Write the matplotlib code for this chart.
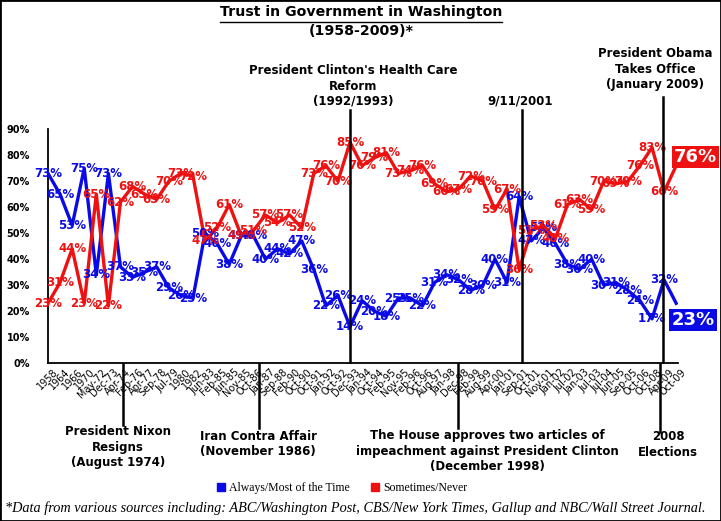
import matplotlib
matplotlib.use("Agg")
import matplotlib.pyplot as plt
import matplotlib.transforms as mtransforms
import numpy as np
from matplotlib.lines import Line2D
from matplotlib.patches import Rectangle

dates = [
    "1958", "1964", "1966", "1970", "May-72", "Dec-73", "Apr-74", "Feb-76",
    "Apr-77", "Sep-78", "Jul-79", "1980", "1982", "Jun-83", "Feb-85", "Jun-85",
    "Nov-85", "Oct-86", "Jan-87", "Sep-88", "Feb-90", "Oct-90", "Oct-91",
    "Jan-92", "Oct-92", "Dec-93", "Jan-94", "Oct-94", "Feb-95", "Nov-95",
    "Feb-96", "Oct-96", "Aug-97", "Jan-98", "Dec-98", "Feb-99", "Aug-99",
    "Apr-00", "Jan-01", "Sep-01", "Oct-01", "Nov-01", "Jan-02", "Jul-02",
    "Jan-03", "Jul-03", "Jul-04", "Jun-05", "Sep-05", "Oct-06", "Oct-08",
    "Apr-09", "Oct-09",
]
always_most = [
    73, 65, 53, 75, 34, 73, 37, 33, 35, 37, 29, 26, 25, 50, 46, 38, 49, 49,
    40, 44, 42, 47, 36, 22, 26, 14, 24, 20, 18, 25, 25, 22, 31, 34, 32, 28,
    30, 40, 31, 64, 47, 52, 46, 38, 36, 40, 30, 31, 28, 24, 17, 32, 23,
]
sometimes_never = [
    23, 31, 44, 23, 65, 22, 62, 68, 65, 63, 70, 73, 72, 47, 52, 61, 49, 51,
    57, 54, 57, 52, 73, 76, 70, 85, 76, 79, 81, 73, 74, 76, 69, 66, 67, 72,
    70, 59, 67, 36, 51, 53, 48, 61, 63, 59, 70, 69, 70, 76, 83, 66, 76,
]
series_names = ["Always/Most of the Time", "Sometimes/Never"]

# events: (text, position on the date axis)
events_top = [
    ("President Clinton's Health Care\nReform\n(1992/1993)", 25.0),
    ("9/11/2001", 39.2),
    ("President Obama\nTakes Office\n(January 2009)", 50.9),
]
events_bottom = [
    ("President Nixon\nResigns\n(August 1974)", 6.2),
    ("Iran Contra Affair\n(November 1986)", 17.5),
    ("The House approves two articles of\nimpeachment against President Clinton\n(December 1998)", 33.9),
    ("2008\nElections", 50.7),
]

BLUE = "#0a0ae6"
RED = "#ee1111"
W, H = 721, 521


def fx(px: float) -> float:
    return px / W


def fy(py: float) -> float:
    return 1 - py / H


fig = plt.figure(figsize=(W / 100, H / 100), dpi=100)
plt.rcParams["font.family"] = ["DejaVu Sans"]

ax = fig.add_axes([fx(48), fy(363), fx(678) - fx(48), fy(129.3) - fy(363)])
x = np.arange(len(dates))
ax.plot(x, always_most, color=BLUE, lw=2.4, zorder=3)
ax.plot(x, sometimes_never, color=RED, lw=2.4, zorder=3)

ax.set_xlim(0, len(dates) - 1 + 0.15)
ax.set_ylim(0, 90)
ax.set_yticks(range(0, 91, 10))
ax.yaxis.set_major_formatter(lambda v, p: f"{v:.0f}%")
ax.tick_params(axis="y", length=0, pad=13, labelsize=7)
for lab in ax.get_yticklabels():
    lab.set_fontweight("bold")

ax.set_xticks(x)
ax.set_xticklabels(dates, rotation=45, ha="right", va="top",
                   rotation_mode="anchor", fontsize=7)
ax.tick_params(axis="x", length=0, pad=3)
shift = mtransforms.ScaledTranslation(5 / 100, 0, fig.dpi_scale_trans)
for lab in ax.get_xticklabels():
    lab.set_transform(lab.get_transform() + shift)

for side in ("top", "right"):
    ax.spines[side].set_visible(False)
for side in ("left", "bottom"):
    ax.spines[side].set_linewidth(1.3)

for values, color in ((always_most, BLUE), (sometimes_never, RED)):
    for i, v in enumerate(values[:-1]):
        ax.text(i, v, f"{v}%", color=color, ha="center", va="center",
                fontsize=8.5, fontweight="bold", zorder=5)

ax.annotate(f"{sometimes_never[-1]}%", xy=(x[-1], sometimes_never[-1]),
            xytext=(14, 6), textcoords="offset points", ha="center",
            va="center", color="white", fontsize=13, fontweight="bold",
            bbox=dict(boxstyle="square,pad=0.12", fc=RED, ec="none"),
            annotation_clip=False, zorder=6)
ax.annotate(f"{always_most[-1]}%", xy=(x[-1], always_most[-1]),
            xytext=(12, -12), textcoords="offset points", ha="center",
            va="center", color="white", fontsize=13, fontweight="bold",
            bbox=dict(boxstyle="square,pad=0.12", fc=BLUE, ec="none"),
            annotation_clip=False, zorder=6)

# event markers
blend = mtransforms.blended_transform_factory(ax.transData, fig.transFigure)
top_ends = [110, 110, 97]
for (text, pos), y0 in zip(events_top, top_ends):
    fig.add_artist(Line2D([pos, pos], [fy(y0), fy(362)], transform=blend,
                          color="black", lw=1.8))
bottom_ends = [425, 428, 428, 432]
for (text, pos), y1 in zip(events_bottom, bottom_ends):
    fig.add_artist(Line2D([pos, pos], [fy(364), fy(y1)], transform=blend,
                          color="black", lw=1.8))

ann = dict(ha="center", va="top", fontsize=8.5, fontweight="bold",
           linespacing=1.25)
fig.text(fx(353), fy(64), events_top[0][0], **ann)
fig.text(fx(520), fy(94), events_top[1][0], **ann)
fig.text(fx(655), fy(47), events_top[2][0], **ann)
fig.text(fx(118), fy(425), events_bottom[0][0], **ann)
fig.text(fx(258), fy(430), events_bottom[1][0], **ann)
fig.text(fx(487), fy(429), events_bottom[2][0], **ann)
fig.text(fx(668), fy(430), events_bottom[3][0], **ann)

title = fig.text(fx(361), fy(12), "Trust in Government in Washington",
                 ha="center", va="center", fontsize=10.2, fontweight="bold")
fig.text(fx(361), fy(31), "(1958-2009)*", ha="center", va="center",
         fontsize=10.2, fontweight="bold")
fig.canvas.draw()
bb = title.get_window_extent()
fig.add_artist(Line2D([bb.x0 / W, bb.x1 / W], [fy(21.5), fy(21.5)],
                      transform=fig.transFigure, color="black", lw=1.0))

handles = [
    Line2D([], [], marker="s", ls="none", color=BLUE, markersize=6),
    Line2D([], [], marker="s", ls="none", color=RED, markersize=6),
]
fig.legend(handles, series_names, loc="center", bbox_to_anchor=(fx(341), fy(488)),
           ncol=2, frameon=False, handlelength=1.0, handletextpad=0.2,
           columnspacing=1.6, prop={"family": "Liberation Serif", "size": 8.5})

fig.text(fx(5), fy(508),
         "*Data from various sources including: ABC/Washington Post, "
         "CBS/New York Times, Gallup and NBC/Wall Street Journal.",
         ha="left", va="center", fontsize=10.3, fontstyle="italic",
         family="Liberation Serif")

fig.add_artist(Rectangle((0, 0), 1, 1, transform=fig.transFigure, fill=False,
                         ec="black", lw=2))

fig.savefig("out.png", dpi=100)
